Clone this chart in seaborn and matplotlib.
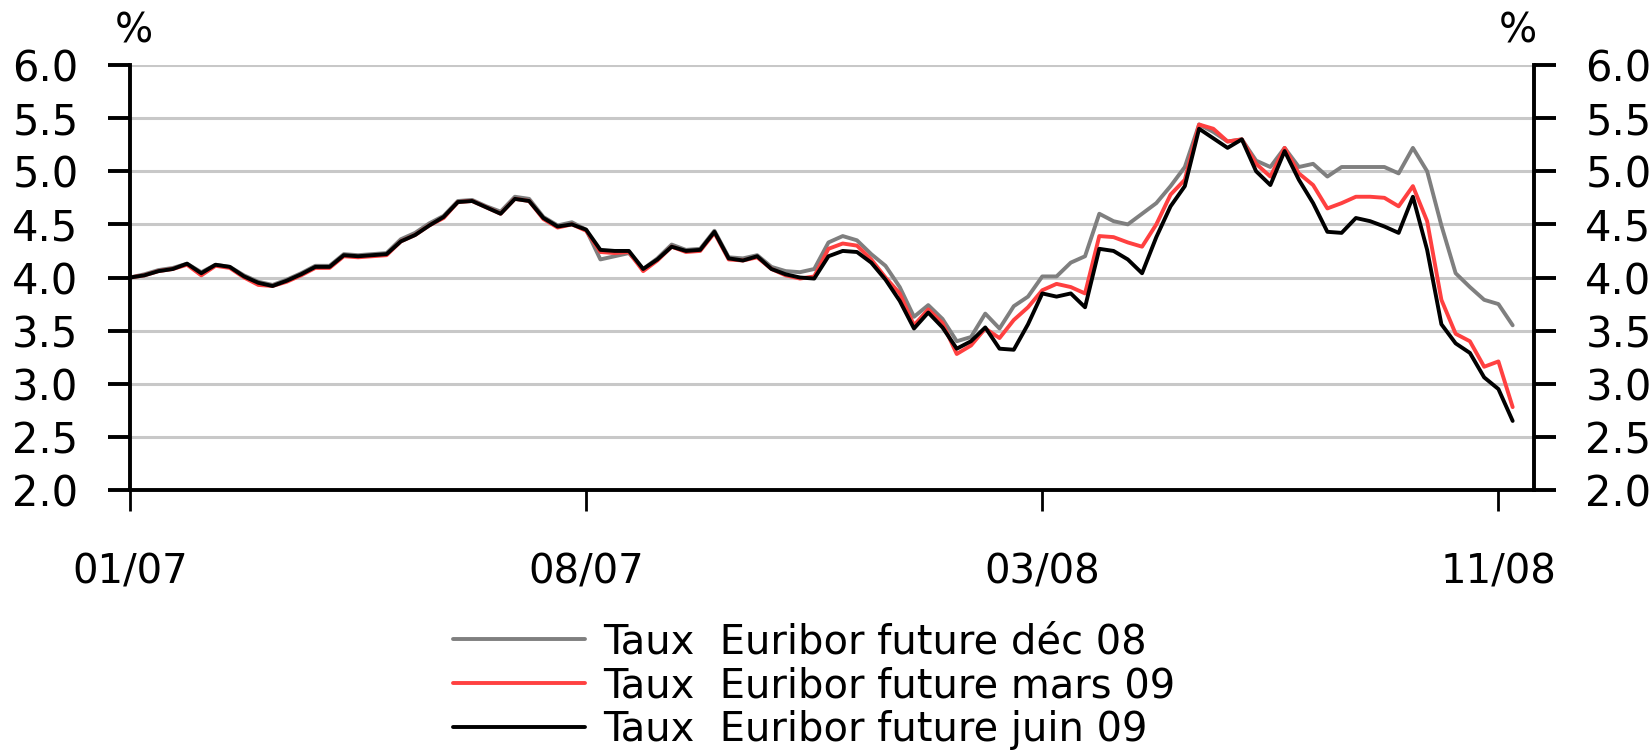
import pandas as pd
import matplotlib
matplotlib.use("Agg")
import matplotlib.pyplot as plt
import seaborn as sns

# weekly readings, Jan 2007 -> Nov 2008
dec08 = [4.00, 4.03, 4.07, 4.09, 4.13, 4.05, 4.12, 4.10, 4.02, 3.96,
         3.93, 3.98, 4.04, 4.11, 4.11, 4.22, 4.21, 4.22, 4.23, 4.36,
         4.42, 4.51, 4.58, 4.72, 4.73, 4.67, 4.62, 4.76, 4.74, 4.57,
         4.49, 4.52, 4.45, 4.17, 4.20, 4.23, 4.08, 4.18, 4.31, 4.26,
         4.27, 4.44, 4.19, 4.18, 4.21, 4.10, 4.06, 4.05, 4.08, 4.33,
         4.39, 4.35, 4.22, 4.11, 3.91, 3.63, 3.74, 3.61, 3.40, 3.44,
         3.66, 3.52, 3.73, 3.82, 4.01, 4.01, 4.14, 4.20, 4.60, 4.53,
         4.50, 4.60, 4.70, 4.86, 5.04, 5.44, 5.37, 5.28, 5.30, 5.10,
         5.04, 5.22, 5.04, 5.07, 4.95, 5.04, 5.04, 5.04, 5.04, 4.98,
         5.22, 5.00, 4.49, 4.04, 3.91, 3.79, 3.75, 3.55]
mars09 = [4.00, 4.02, 4.06, 4.08, 4.12, 4.02, 4.11, 4.09, 4.00, 3.93,
          3.92, 3.96, 4.02, 4.09, 4.09, 4.20, 4.19, 4.20, 4.21, 4.34,
          4.40, 4.49, 4.56, 4.71, 4.72, 4.66, 4.60, 4.74, 4.72, 4.55,
          4.47, 4.50, 4.44, 4.24, 4.23, 4.24, 4.06, 4.16, 4.29, 4.24,
          4.25, 4.42, 4.17, 4.16, 4.19, 4.08, 4.02, 3.99, 4.01, 4.27,
          4.32, 4.30, 4.17, 4.00, 3.85, 3.55, 3.70, 3.57, 3.28, 3.36,
          3.52, 3.43, 3.60, 3.72, 3.88, 3.94, 3.91, 3.85, 4.39, 4.38,
          4.33, 4.29, 4.50, 4.78, 4.92, 5.44, 5.40, 5.28, 5.30, 5.07,
          4.95, 5.22, 4.98, 4.87, 4.65, 4.70, 4.76, 4.76, 4.75, 4.67,
          4.86, 4.53, 3.79, 3.47, 3.40, 3.16, 3.21, 2.78]
juin09 = [4.00, 4.02, 4.06, 4.08, 4.13, 4.04, 4.12, 4.10, 4.01, 3.95,
          3.92, 3.97, 4.03, 4.10, 4.10, 4.21, 4.20, 4.21, 4.22, 4.34,
          4.40, 4.49, 4.57, 4.71, 4.72, 4.66, 4.60, 4.74, 4.72, 4.56,
          4.48, 4.50, 4.45, 4.26, 4.25, 4.25, 4.08, 4.17, 4.29, 4.25,
          4.26, 4.43, 4.18, 4.16, 4.20, 4.08, 4.03, 4.00, 3.99, 4.20,
          4.25, 4.24, 4.14, 3.98, 3.78, 3.52, 3.67, 3.53, 3.33, 3.40,
          3.53, 3.33, 3.32, 3.56, 3.85, 3.82, 3.85, 3.72, 4.27, 4.25,
          4.17, 4.04, 4.38, 4.67, 4.86, 5.40, 5.31, 5.22, 5.30, 5.00,
          4.87, 5.19, 4.92, 4.70, 4.43, 4.42, 4.56, 4.53, 4.48, 4.42,
          4.76, 4.26, 3.56, 3.38, 3.29, 3.06, 2.95, 2.65]

labels = ["Taux  Euribor future déc 08",
          "Taux  Euribor future mars 09",
          "Taux  Euribor future juin 09"]
colors = ["#7f7f7f", "#ff4040", "#000000"]
tick_labels = ["01/07", "08/07", "03/08", "11/08"]
y_ticks = [2.0, 2.5, 3.0, 3.5, 4.0, 4.5, 5.0, 5.5, 6.0]

dates = pd.date_range("2007-01-02", periods=len(dec08), freq="7D")
df = pd.concat([
    pd.DataFrame({"date": dates, "taux": vals, "serie": lab})
    for vals, lab in zip([dec08, mars09, juin09], labels)
])

sns.set_style("white")
plt.rcParams["font.family"] = ["DejaVu Sans"]
plt.rcParams["text.color"] = "black"
plt.rcParams["xtick.color"] = "black"
plt.rcParams["ytick.color"] = "black"

fig = plt.figure(figsize=(16.52, 7.55), dpi=100)
ax = fig.add_axes([0.0787, 0.351, 0.8499, 0.5629])

sns.lineplot(data=df, x="date", y="taux", hue="serie", palette=colors,
             linewidth=2.8, ax=ax, legend=False)

ax.set_ylim(2.0, 6.0)
ax.set_yticks(y_ticks)
ax.set_yticklabels([f"{v:.1f}" for v in y_ticks])
ax.set_xlim(dates[0], dates[0] + pd.Timedelta(days=7 * 98.5))
ax.set_xticks([dates[0], dates[32], dates[64], dates[96]])
ax.set_xticklabels(tick_labels)
ax.set_xlabel("")
ax.set_ylabel("")

ax.yaxis.grid(True, color="#c8c8c8", linewidth=2.2)
ax.xaxis.grid(False)
ax.set_axisbelow(True)

for s in ["left", "bottom", "right"]:
    ax.spines[s].set_visible(True)
    ax.spines[s].set_color("black")
    ax.spines[s].set_linewidth(2.8)
ax.spines["top"].set_visible(False)

ax.tick_params(axis="y", direction="out", length=16, width=2.8,
               pad=21, labelsize=30, left=True)
ax.tick_params(axis="x", direction="out", length=15, width=2.0,
               pad=30, labelsize=29, bottom=True)

ax2 = ax.twinx()
ax2.set_ylim(2.0, 6.0)
ax2.set_yticks(y_ticks)
ax2.set_yticklabels([f"{v:.1f}" for v in y_ticks])
ax2.tick_params(axis="y", direction="out", length=16, width=2.8,
                pad=21, labelsize=30, right=True)
for s in ["left", "bottom", "top", "right"]:
    ax2.spines[s].set_visible(False)
ax2.grid(False)

fig.text(0.081, 0.958, "%", fontsize=29, ha="center", va="center")
fig.text(0.919, 0.958, "%", fontsize=29, ha="center", va="center")

handles = ax.get_lines()[:3]
fig.legend(handles, labels, loc="center", bbox_to_anchor=(0.493, 0.091),
           frameon=False, prop={"family": "DejaVu Sans", "size": 28.8},
           handlelength=3.3, handletextpad=0.45, labelspacing=0.1,
           borderpad=0)

fig.savefig("out.png", dpi=100)
